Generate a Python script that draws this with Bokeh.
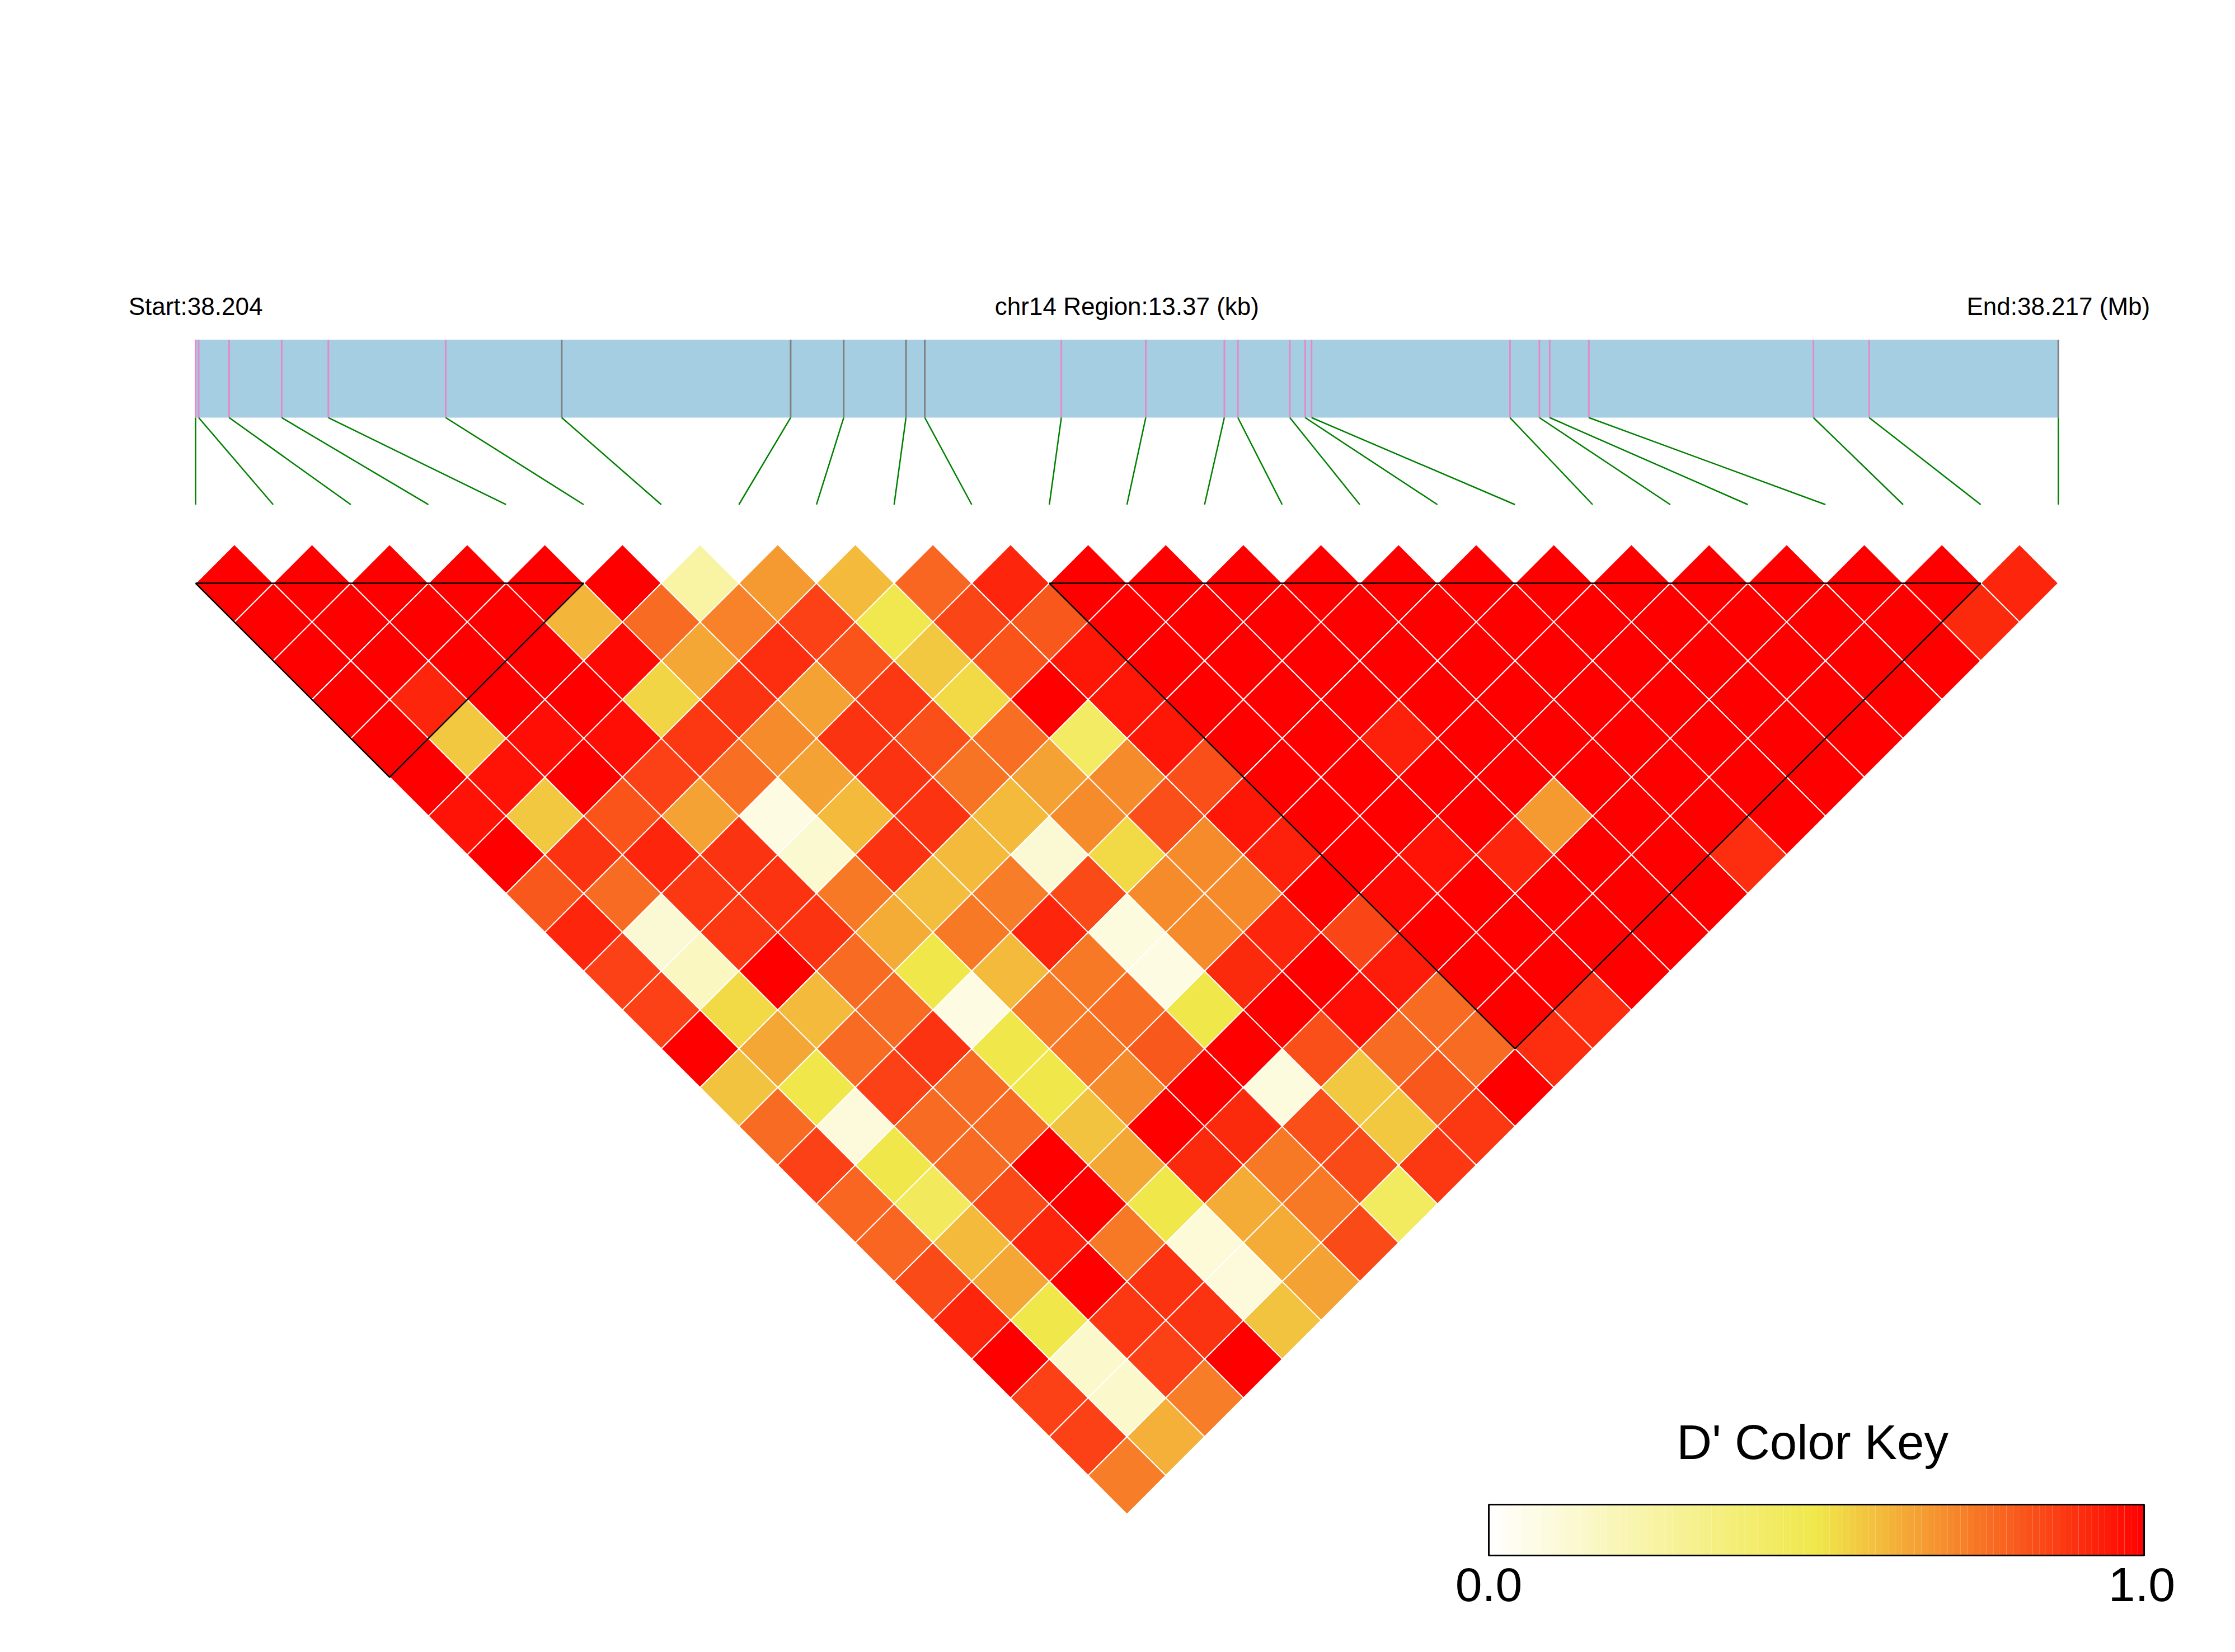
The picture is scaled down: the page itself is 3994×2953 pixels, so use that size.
from bokeh.plotting import figure
from bokeh.models import Range1d
from bokeh.embed import file_html
from bokeh.resources import INLINE
from bokeh.core.properties import value

# ---------------- data ----------------
chrom = "chr14"
region_start_bp = 38203900
snp_offsets_bp = [0, 22, 241, 618, 953, 1795, 2628, 4271, 4652, 5099, 5234, 6214, 6820,
                  7384, 7481, 7854, 7964, 8010, 9434, 9645, 9719, 10000, 11612, 12012, 13370]
snp_positions = [region_start_bp + o for o in snp_offsets_bp]

block_first_snp = [0, 11]
block_last_snp = [5, 23]

# D' between SNP i and SNP i+lag (index = i)
dprime_lag01 = [1, 1, 1, 1, 1, 1, 0.25, 0.67, 0.60, 0.78, 0.92, 1, 1, 1, 1, 1, 1, 1, 1, 1, 1, 1, 1, 0.92]
dprime_lag02 = [1, 1, 1, 1, 0.61, 0.77, 0.72, 0.86, 0.49, 0.85, 0.81, 1, 1, 1, 1, 1, 1, 1, 1, 1, 1, 1, 0.91]
dprime_lag03 = [1, 1, 1, 1, 0.98, 0.64, 0.90, 0.82, 0.57, 0.82, 0.95, 1, 1, 1, 1, 1, 1, 1, 1, 1, 1, 1]
dprime_lag04 = [1, 0.92, 1, 1, 0.54, 0.89, 0.65, 0.88, 0.53, 1, 0.95, 1, 1, 1, 1, 1, 1, 1, 1, 1, 1]
dprime_lag05 = [1, 0.57, 0.97, 0.97, 0.88, 0.70, 0.89, 0.83, 0.76, 0.43, 0.95, 1, 1, 0.93, 1, 1, 1, 1, 1, 1]
dprime_lag06 = [1, 0.96, 1, 0.86, 0.76, 0.65, 0.89, 0.75, 0.65, 0.70, 0.83, 1, 1, 1, 1, 1, 1, 1, 1]
dprime_lag07 = [0.96, 0.57, 0.82, 0.65, 0.08, 0.60, 0.89, 0.60, 0.70, 0.83, 0.95, 1, 1, 1, 0.67, 1, 1, 1]
dprime_lag08 = [1, 0.89, 0.92, 0.89, 0.13, 0.89, 0.60, 0.12, 0.53, 0.70, 0.93, 1, 0.96, 0.92, 1, 1, 0.90]
dprime_lag09 = [0.81, 0.77, 0.88, 0.89, 0.74, 0.59, 0.73, 0.84, 0.70, 0.70, 1, 0.98, 1, 1, 1, 1]
dprime_lag10 = [0.92, 0.12, 0.88, 0.89, 0.63, 0.74, 0.92, 0.09, 0.70, 0.92, 0.85, 1, 1, 1, 1]
dprime_lag11 = [0.86, 0.17, 1, 0.77, 0.50, 0.60, 0.74, 0.08, 0.91, 1, 0.94, 1, 1, 1]
dprime_lag12 = [0.86, 0.53, 0.60, 0.77, 0.08, 0.73, 0.76, 0.50, 1, 0.97, 0.77, 1, 0.90]
dprime_lag13 = [1, 0.64, 0.77, 0.89, 0.50, 0.74, 0.81, 1, 0.83, 0.77, 0.77, 0.90]
dprime_lag14 = [0.58, 0.50, 0.86, 0.77, 0.50, 0.70, 1, 0.09, 0.57, 0.81, 1]
dprime_lag15 = [0.77, 0.10, 0.77, 0.77, 0.58, 1, 0.91, 0.83, 0.57, 0.88]
dprime_lag16 = [0.86, 0.50, 0.77, 1, 0.64, 0.91, 0.74, 0.84, 0.88]
dprime_lag17 = [0.78, 0.45, 0.84, 1, 0.50, 0.63, 0.74, 0.44]
dprime_lag18 = [0.78, 0.60, 0.92, 0.74, 0.11, 0.63, 0.84]
dprime_lag19 = [0.84, 0.64, 1, 0.89, 0.10, 0.65]
dprime_lag20 = [0.92, 0.50, 0.88, 0.89, 0.58]
dprime_lag21 = [1, 0.14, 0.86, 1]
dprime_lag22 = [0.86, 0.14, 0.73]
dprime_lag23 = [0.86, 0.62]
dprime_lag24 = [0.73]

colorkey_title = "D' Color Key"
colorkey_labels = ["0.0", "1.0"]

dprime_lags = [dprime_lag01, dprime_lag02, dprime_lag03, dprime_lag04, dprime_lag05, dprime_lag06,
               dprime_lag07, dprime_lag08, dprime_lag09, dprime_lag10, dprime_lag11, dprime_lag12,
               dprime_lag13, dprime_lag14, dprime_lag15, dprime_lag16, dprime_lag17, dprime_lag18,
               dprime_lag19, dprime_lag20, dprime_lag21, dprime_lag22, dprime_lag23, dprime_lag24]

# ---------------- colours ----------------
STOPS = [(0.0, (255, 255, 255)), (0.5, (240, 232, 74)), (1.0, (255, 0, 0))]


def dprime_color(v):
    v = max(0.0, min(1.0, v))
    for (a, ca), (b, cb) in zip(STOPS[:-1], STOPS[1:]):
        if v <= b:
            t = (v - a) / (b - a)
            c = [round(ca[k] + (cb[k] - ca[k]) * t) for k in range(3)]
            return "#%02x%02x%02x" % tuple(c)
    return "#ff0000"


# ---------------- figure ----------------
W, H = 3994, 2953
PX = 138.7                      # pixels per SNP step
x_lo = -349 / PX
y_hi = -0.5 + 1042 / PX
p = figure(width=W, height=H, output_backend="svg", toolbar_location=None,
           x_range=Range1d(x_lo, x_lo + W / PX), y_range=Range1d(y_hi - H / PX, y_hi),
           x_axis_location=None, y_axis_location=None, min_border=0)
p.grid.visible = False
p.outline_line_color = None
p.background_fill_color = "white"
p.border_fill_color = "white"

n = len(snp_positions)

# LD diamonds
xs, ys, cols = [], [], []
for lag, row in enumerate(dprime_lags, start=1):
    for i, v in enumerate(row):
        cx = i + lag / 2.0
        cy = -lag / 2.0
        xs.append([cx - 0.5, cx, cx + 0.5, cx])
        ys.append([cy, cy + 0.5, cy, cy - 0.5])
        cols.append(dprime_color(v))
p.patches(xs, ys, fill_color=cols, line_color="white", line_width=2)

# haplotype blocks
bxs, bys = [], []
for a, b in zip(block_first_snp, block_last_snp):
    bxs.append([a, b, (a + b) / 2.0, a])
    bys.append([-0.5, -0.5, -0.5 - (b - a) / 2.0, -0.5])
p.multi_line(bxs, bys, line_color="black", line_width=2.5)

# gene / region bar
bar_bottom, bar_top, link_end = 1.634, 2.637, 0.513
p.quad(left=[0], right=[n - 1], bottom=[bar_bottom], top=[bar_top],
       fill_color="#A6CEE3", line_color=None)

span = snp_positions[-1] - snp_positions[0]
xphys = [(pos - snp_positions[0]) / span * (n - 1) for pos in snp_positions]
in_block = [any(a <= k <= b for a, b in zip(block_first_snp, block_last_snp)) for k in range(n)]
tick_cols = ["#E58AC8" if f else "#808080" for f in in_block]
p.segment(x0=xphys, y0=[bar_bottom] * n, x1=xphys, y1=[bar_top] * n,
          line_color=tick_cols, line_width=3)
p.segment(x0=xphys, y0=[bar_bottom] * n, x1=list(range(n)), y1=[link_end] * n,
          line_color="#008000", line_width=2.5)

start_mb = snp_positions[0] / 1e6
end_mb = snp_positions[-1] / 1e6
region_kb = span / 1000.0
labels = ["Start:%.3f" % start_mb, "%s Region:%.2f (kb)" % (chrom, region_kb), "End:%.3f (Mb)" % end_mb]
p.text(x=[0, (n - 1) / 2.0, n - 1], y=[3.067] * 3, text=labels,
       text_align="center", text_baseline="alphabetic",
       text_font=value("Liberation Sans"), text_font_size="44px", text_color="black")

# colour key
ck_l, ck_r, ck_b, ck_t = 16.662, 25.105, -13.030, -12.374
nbins = 100
step = (ck_r - ck_l) / nbins
p.quad(left=[ck_l + k * step for k in range(nbins)],
       right=[ck_l + (k + 1) * step for k in range(nbins)],
       bottom=[ck_b] * nbins, top=[ck_t] * nbins,
       fill_color=[dprime_color((k + 0.5) / nbins) for k in range(nbins)], line_color=None)
p.quad(left=[ck_l], right=[ck_r], bottom=[ck_b], top=[ck_t],
       fill_color=None, line_color="black", line_width=3)
p.text(x=[(ck_l + ck_r) / 2.0 - 0.05], y=[-11.565], text=[colorkey_title],
       text_align="center", text_baseline="alphabetic",
       text_font=value("Liberation Sans"), text_font_size="87px", text_color="black")
p.text(x=[ck_l, ck_r - 0.03], y=[-13.405, -13.405], text=colorkey_labels,
       text_align="center", text_baseline="alphabetic",
       text_font=value("Liberation Sans"), text_font_size="86px", text_color="black")

open("out.html", "w").write(file_html(p, INLINE))
